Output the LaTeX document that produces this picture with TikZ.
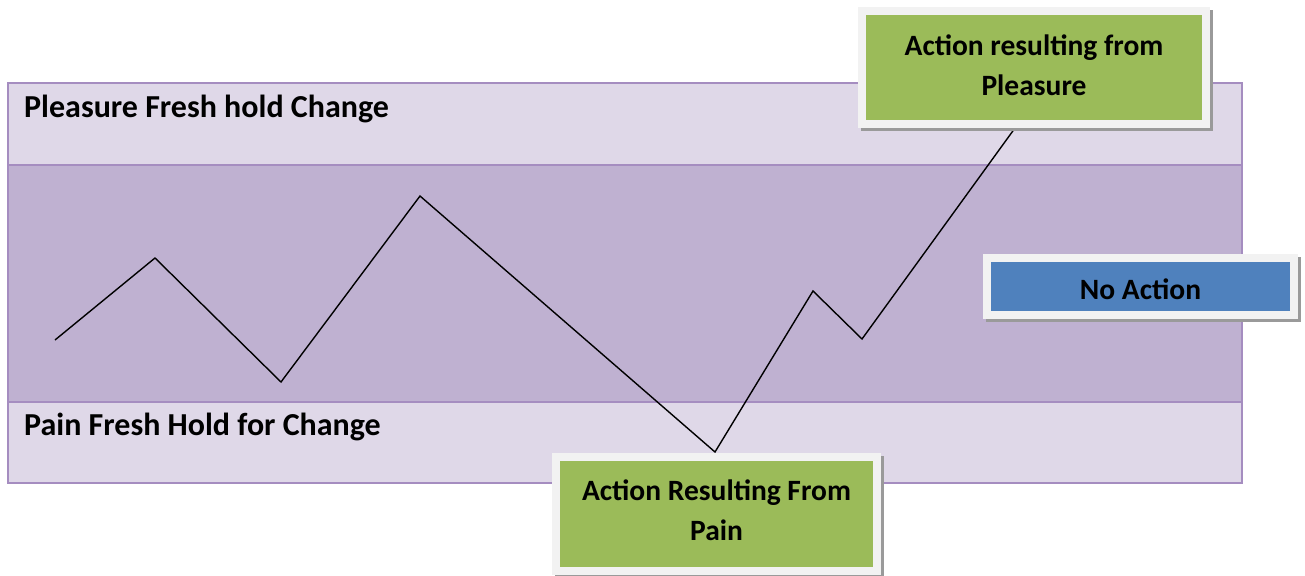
\documentclass[tikz,border=0pt]{standalone}
\usepackage{fontspec}
\setmainfont{Carlito}
\definecolor{bandlight}{HTML}{DFD8E8}
\definecolor{banddark}{HTML}{BFB1D1}
\definecolor{bandborder}{HTML}{A58DC0}
\definecolor{boxgreen}{HTML}{9BBB59}
\definecolor{boxblue}{HTML}{4F81BD}
\definecolor{framegray}{HTML}{F2F2F2}
\definecolor{shadowgray}{HTML}{9A9A9A}
\tikzset{
  band/.style={draw=bandborder, line width=2pt},
  lbl/.style={anchor=west, font=\fontsize{32}{36}\selectfont\bfseries, inner sep=0pt},
  callout/.style={draw=framegray, line width=8pt, inner sep=0pt, outer sep=0pt,
    preaction={draw=shadowgray, fill=shadowgray, line width=8pt, transform canvas={xshift=3pt, yshift=-3pt}}},
  callouttext/.style={align=center, inner sep=0pt, yshift=2.5pt,
    font=\fontsize{29.5}{40}\selectfont\bfseries},
  trend/.style={black, line width=1.4pt, line join=miter}
}
\begin{document}
\begin{tikzpicture}[x=1pt, y=-1pt]
\useasboundingbox (0,0) rectangle (1305,575);
% bands
\fill[bandlight] (8,83) rectangle (1242,165);
\fill[banddark] (8,165) rectangle (1242,402);
\fill[bandlight] (8,402) rectangle (1242,483);
\draw[band] (8,165) -- (1242,165);
\draw[band] (8,402) -- (1242,402);
\draw[band] (8,83) rectangle (1242,483);
\node[lbl] (pleasurelbl) at (24,109) {Pleasure Fresh hold Change};
\node[lbl] (painlbl) at (24,427) {Pain Fresh Hold for Change};
% trend line
\coordinate (p1) at (55,340);
\coordinate (p2) at (155,258);
\coordinate (p3) at (281,382);
\coordinate (p4) at (420,196);
\coordinate (p5) at (715,452);
\coordinate (p6) at (813,291);
\coordinate (p7) at (862,339);
\coordinate (p8) at (1015,128);
\draw[trend] (p1) -- (p2) -- (p3) -- (p4) -- (p5) -- (p6) -- (p7) -- (p8);
% callouts
\node[callout, fill=boxgreen, minimum width=344pt, minimum height=113pt,
  label={[callouttext]center:{Action resulting from\\Pleasure}}] (pleasure) at (1034,67.5) {};
\node[callout, fill=boxgreen, minimum width=321pt, minimum height=114pt,
  label={[callouttext, yshift=1pt]center:{Action Resulting From\\Pain}}] (pain) at (716.5,514) {};
\node[callout, fill=boxblue, minimum width=307pt, minimum height=57pt,
  label={[callouttext, yshift=-5pt]center:{No Action}}] (noaction) at (1140.5,286.5) {};
\end{tikzpicture}
\end{document}
